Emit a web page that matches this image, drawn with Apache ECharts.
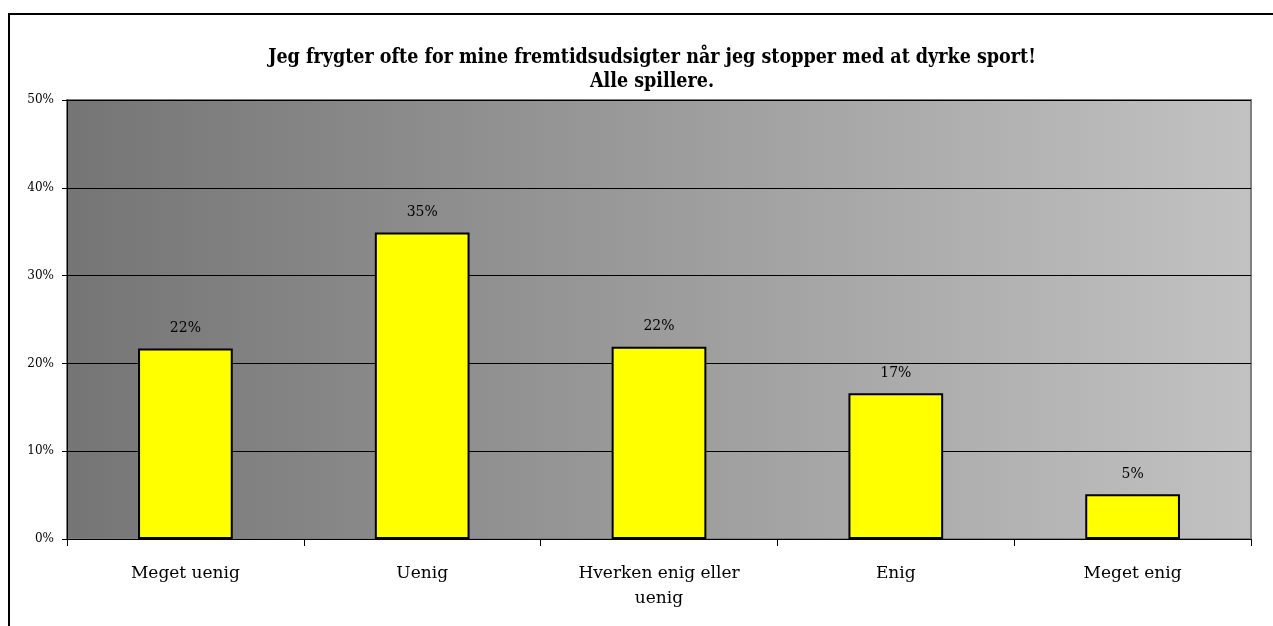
<!DOCTYPE html>
<html>
<head>
<meta charset="utf-8">
<script src="https://cdn.jsdelivr.net/npm/echarts@6/dist/echarts.min.js"></script>
<style>
  html, body { margin: 0; padding: 0; background: #fff; }
  #chart { width: 1273px; height: 626px; }
</style>
</head>
<body>
<div id="chart"></div>
<script>
// svar fordeling - alle spillere
const categories = ['Meget uenig', 'Uenig', 'Hverken enig eller\nuenig', 'Enig', 'Meget enig'];
const percentages = [21.7, 34.9, 21.9, 16.6, 5.1];
const yTicks = [0, 10, 20, 30, 40, 50];

const chart = echarts.init(document.getElementById('chart'));

chart.setOption({
  animation: false,
  title: {
    text: 'Jeg frygter ofte for mine fremtidsudsigter når jeg stopper med at dyrke sport!\nAlle spillere.',
    left: 647,
    top: 41,
    textAlign: 'center',
    textStyle: {
      fontFamily: 'DejaVu Serif Condensed',
      fontWeight: 'bold',
      fontSize: 19.5,
      lineHeight: 24,
      color: '#000'
    }
  },
  graphic: [{
    type: 'rect',
    shape: { x: 9, y: 14, width: 1400, height: 800 },
    style: { fill: 'none', stroke: '#000', lineWidth: 2 },
    z: 100
  }],
  grid: {
    left: 67,
    right: 22,
    top: 100,
    bottom: 87,
    show: true,
    borderColor: '#808080',
    borderWidth: 2,
    backgroundColor: new echarts.graphic.LinearGradient(0, 0, 1, 0, [
      { offset: 0, color: '#757575' },
      { offset: 1, color: '#c2c2c2' }
    ])
  },
  xAxis: {
    type: 'category',
    data: categories,
    axisLine: { lineStyle: { color: '#000', width: 1 } },
    axisTick: { show: true, length: 7, lineStyle: { color: '#000' } },
    axisLabel: {
      fontFamily: 'DejaVu Serif',
      fontSize: 17,
      color: '#000',
      margin: 22,
      lineHeight: 25,
      interval: 0
    }
  },
  yAxis: {
    type: 'value',
    min: yTicks[0],
    max: yTicks[yTicks.length - 1],
    interval: 10,
    axisLine: { show: true, lineStyle: { color: '#000', width: 1 } },
    axisTick: { show: true, length: 5, lineStyle: { color: '#000' } },
    axisLabel: {
      formatter: '{value}%',
      fontFamily: 'DejaVu Serif',
      fontSize: 12,
      color: '#000',
      margin: 13
    },
    splitLine: { lineStyle: { color: '#000', width: 1 } }
  },
  series: [{
    type: 'bar',
    data: percentages,
    barWidth: '40%',
    itemStyle: {
      color: '#ffff00',
      borderColor: '#000',
      borderWidth: 2
    },
    label: {
      show: true,
      position: 'top',
      distance: 13,
      formatter: p => Math.round(p.value) + '%',
      fontFamily: 'DejaVu Serif',
      fontSize: 14,
      color: '#000'
    }
  }]
});
</script>
</body>
</html>
